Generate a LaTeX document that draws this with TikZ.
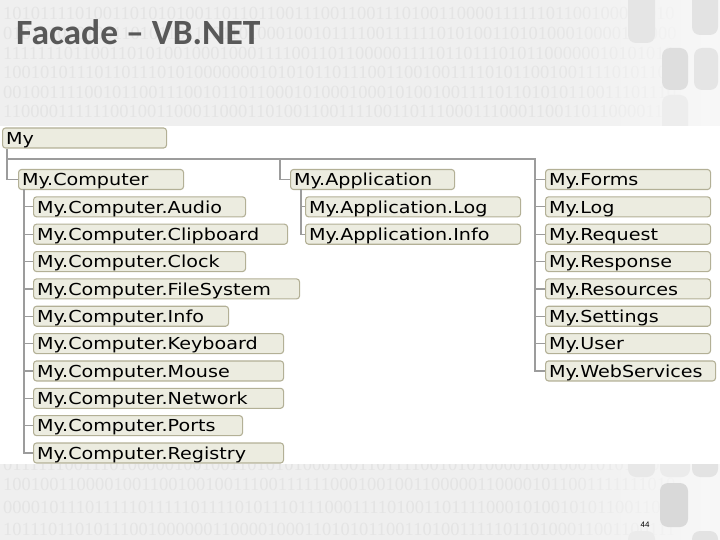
\documentclass[tikz,border=0pt]{standalone}
\usepackage{fontspec}
\usetikzlibrary{fadings}
\newfontfamily\boxfont{DejaVu Sans}[FakeStretch=1.16]
\newfontfamily\titlefont{Carlito}
\newfontfamily\digitfont{Liberation Serif}
\newfontfamily\pnfont{Liberation Sans}
\definecolor{band}{HTML}{EFEFEF}
\definecolor{bandlight}{HTML}{F8F8F8}
\definecolor{digit}{HTML}{E4E4E4}
\definecolor{boxfill}{HTML}{ECECE0}
\definecolor{boxdraw}{HTML}{B3B096}
\definecolor{conncol}{HTML}{9C9C9C}
\definecolor{titlecol}{HTML}{585858}
\tikzset{
  box/.style={draw=boxdraw, fill=boxfill, line width=1.1pt, rounded corners=3pt,
    anchor=west, align=left, inner xsep=3.5pt, inner ysep=1.7pt,
    text height=14.6pt, text depth=2pt, minimum height=20pt,
    font=\boxfont\fontsize{16.5}{18}\selectfont, text=black},
  conn/.style={draw=conncol, line width=1.2pt},
  digits/.style={anchor=base west, inner sep=0pt, text=digit,
    font=\digitfont\fontsize{18.5}{20}\selectfont},
  deco/.style={rounded corners=8pt}
}
\begin{document}
\begin{tikzpicture}[x=1pt,y=-1pt]
\useasboundingbox (0,0) rectangle (720,540);
% background bands
\fill[band] (0,0) rectangle (720,126);
\fill[band] (0,464) rectangle (720,540);
\begin{scope}
\clip (0,0) rectangle (720,126);
\node[digits] (t1) at (3,20) {10101111010011010101001101101100111001100111010011000011111101100100010010};
\node[digits] (t2) at (3,39.6) {01011101010011010110111011010001001011110011111101010011010100010000100000};
\node[digits] (t3) at (3,59.2) {11111110110011010100100010001111001101100000111101101110101100000010101010};
\node[digits] (t4) at (3,78.8) {10010101110110111010100000001010101101110011001001111010110010011110101100};
\node[digits] (t5) at (3,98.4) {00100111100101100111001011011000101000100010100100111101101010110011101110};
\node[digits] (t6) at (3,118) {11000011111100100110001100011010011001111001101110001110001100110110000111};
\fill[bandlight, path fading=west] (540,0) rectangle (720,126);
\fill[deco, fill=black!10] (628,-10) rectangle (655,43);
\fill[deco, fill=black!11] (692,-10) rectangle (718,35);
\fill[deco, fill=black!13] (662,48) rectangle (688,90);
\fill[deco, fill=black!10] (694,48) rectangle (718,90);
\fill[deco, fill=black!7] (662,95) rectangle (688,140);
\end{scope}
\begin{scope}
\clip (0,464) rectangle (720,540);
\node[digits] (b0) at (3,470) {01111110011101000001001001101010100010011011110010101000010010001010111011};
\node[digits] (b1) at (3,490) {10010011000010011001001001110011111100010010011000001100001011001111111010};
\node[digits] (b2) at (3,513) {00001011101111101111101111010111011100011110100110111100010100101011001101};
\node[digits] (b3) at (3,535) {10111011010111001000000110000100011010101100110100111110110100011001100111};
\fill[bandlight, path fading=west] (540,464) rectangle (720,540);
\fill[deco, fill=black!9] (628,450) rectangle (655,477);
\fill[deco, fill=black!8] (660,450) rectangle (690,477);
\fill[deco, fill=black!11] (692,450) rectangle (718,477);
\fill[deco, fill=black!15] (660,483) rectangle (688,527);
\fill[deco, fill=black!8] (628,531) rectangle (655,550);
\fill[deco, fill=black!11] (692,531) rectangle (718,550);
\end{scope}
% title and page number
\node[anchor=base west, inner sep=0pt, text=titlecol, font=\titlefont\bfseries\fontsize{35.5}{40}\selectfont] (title) at (16,45) {Facade – VB.NET};
\node[inner sep=0pt, font=\pnfont\fontsize{8}{9}\selectfont] (pn) at (645,525) {44};
% boxes
\node[box, text width=157pt] (my) at (2,138) {My};
\node[box, text width=158pt] (mc) at (18,179.5) {My.Computer};
\node[box, text width=205pt] (caud) at (33,206.85) {My.Computer.Audio};
\node[box, text width=247pt] (cclb) at (33,234.2) {My.Computer.Clipboard};
\node[box, text width=205pt] (cclk) at (33,261.55) {My.Computer.Clock};
\node[box, text width=259pt] (cfs) at (33,288.9) {My.Computer.FileSystem};
\node[box, text width=188pt] (cinf) at (33,316.25) {My.Computer.Info};
\node[box, text width=243pt] (ckey) at (33,343.6) {My.Computer.Keyboard};
\node[box, text width=243pt] (cmou) at (33,370.95) {My.Computer.Mouse};
\node[box, text width=243pt] (cnet) at (33,398.3) {My.Computer.Network};
\node[box, text width=202pt] (cpor) at (33,425.65) {My.Computer.Ports};
\node[box, text width=243pt] (creg) at (33,453.0) {My.Computer.Registry};
\node[box, text width=157pt] (ma) at (290,179.5) {My.Application};
\node[box, text width=208pt] (alog) at (305,206.85) {My.Application.Log};
\node[box, text width=208pt] (ainf) at (305,234.2) {My.Application.Info};
\node[box, text width=158pt] (rfrm) at (545,179.5) {My.Forms};
\node[box, text width=158pt] (rlog) at (545,206.85) {My.Log};
\node[box, text width=158pt] (rreq) at (545,234.2) {My.Request};
\node[box, text width=158pt] (rrsp) at (545,261.55) {My.Response};
\node[box, text width=158pt] (rres) at (545,288.9) {My.Resources};
\node[box, text width=158pt] (rset) at (545,316.25) {My.Settings};
\node[box, text width=158pt] (rusr) at (545,343.6) {My.User};
\node[box, text width=163pt] (rweb) at (545,370.95) {My.WebServices};
% connectors
\coordinate (j1) at (7,159);
\coordinate (j2) at (535,159);
\coordinate (j3) at (280,159);
\coordinate (cv) at (24,189.5);
\coordinate (av) at (301,189.5);
\draw[conn] ([xshift=5pt]my.south west) |- (mc.west);
\draw[conn] (j1) -- (j2) |- (rweb.west);
\draw[conn] (j3) |- (ma.west);
\foreach \n in {rfrm,rlog,rreq,rrsp,rres,rset,rusr}{\draw[conn] (j2 |- \n.west) -- (\n.west);}
\draw[conn] (cv) |- (creg.west);
\foreach \n in {caud,cclb,cclk,cfs,cinf,ckey,cmou,cnet,cpor}{\draw[conn] (cv |- \n.west) -- (\n.west);}
\draw[conn] (av) |- (ainf.west);
\draw[conn] (av |- alog.west) -- (alog.west);
\end{tikzpicture}
\end{document}
